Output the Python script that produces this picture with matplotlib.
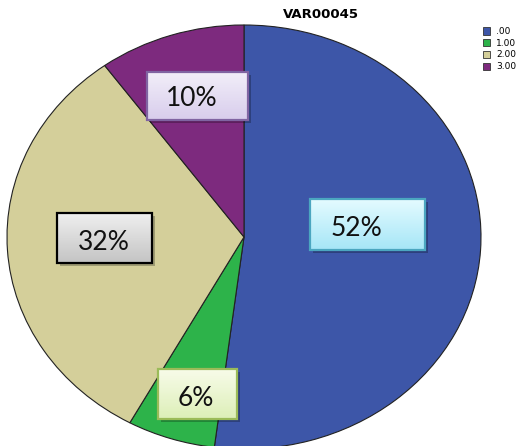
import matplotlib
matplotlib.use("Agg")
import numpy as np
import matplotlib.pyplot as plt
from matplotlib.patches import Rectangle
from matplotlib.colors import LinearSegmentedColormap

# data
categories = [".00", "1.00", "2.00", "3.00"]
values = [52, 6, 32, 10]
labels = ["52%", "6%", "32%", "10%"]
colors = ["#3D56A8", "#2DB34A", "#D4CF9A", "#7D2A7E"]

# label boxes: gradient top, gradient bottom, edge
box_styles = [("#E4FBFF", "#A6E6F7", "#4BA6C0"),
              ("#F8FCEA", "#DDEFB8", "#9BBB59"),
              ("#EFEFEF", "#C4C4C4", "#000000"),
              ("#F2EEF9", "#D8CDEC", "#8064A2")]
# box (left, top, right, bottom) and text centre, in picture pixels
box_rects = [(310, 199, 425, 250), (158, 369, 237, 419),
             (57, 213, 152, 263), (147, 72, 248, 120)]
text_pos = [(356, 229), (196, 399), (104, 243), (192, 99)]

W, H = 520, 446
cx, cy, rx, ry = 244, 237, 237, 212

fig = plt.figure(figsize=(W / 100, H / 100), dpi=100)
ax = fig.add_axes([0, 0, 1, 1])
ax.pie(values, colors=colors, startangle=90, counterclock=False,
       wedgeprops=dict(edgecolor="#222222", linewidth=0.8))

def px(x, y):
    return (x - cx) / rx, (cy - y) / ry

grad = np.linspace(0, 1, 64).reshape(-1, 1)
for lab, (top, bot, ec), (l, t, r, b), (x, y) in zip(labels, box_styles, box_rects, text_pos):
    x0, y0 = px(l, t)
    x1, y1 = px(r, b)
    # shadow
    sx0, sy0 = px(l + 3, t + 3)
    sx1, sy1 = px(r + 3, b + 3)
    ax.add_patch(Rectangle((sx0, sy1), sx1 - sx0, sy0 - sy1, fc="#000000",
                           alpha=0.25, ec="none", zorder=3))
    cmap = LinearSegmentedColormap.from_list("g", [top, bot])
    ax.imshow(grad, cmap=cmap, extent=(x0, x1, y1, y0), origin="upper",
              aspect="auto", zorder=4, interpolation="bilinear")
    ax.add_patch(Rectangle((x0, y1), x1 - x0, y0 - y1, fc="none", ec=ec,
                           lw=1.6, zorder=5))
    tx, ty = px(x, y)
    ax.text(tx, ty, lab, ha="center", va="center", fontsize=19,
            family="Lato", color="#111111", zorder=6)

ax.set_aspect("auto")
ax.set_xlim(-cx / rx, (W - cx) / rx)
ax.set_ylim((cy - H) / ry, cy / ry)
ax.axis("off")

fig.text(321 / W, 1 - 15 / H, "VAR00045", ha="center", va="center",
         fontsize=9.5, fontweight="bold", family="DejaVu Sans")

# legend
for i, (cat, col) in enumerate(zip(categories, colors)):
    y = 27.5 + i * 11.7
    fig.patches.append(Rectangle((483 / W, 1 - (y + 7) / H), 7 / W, 7 / H,
                                 transform=fig.transFigure, fc=col,
                                 ec="#333333", lw=0.6))
    fig.text(496 / W, 1 - (y + 4) / H, cat, ha="left", va="center",
             fontsize=6.5, family="DejaVu Sans")

fig.savefig("out.png", dpi=100)
